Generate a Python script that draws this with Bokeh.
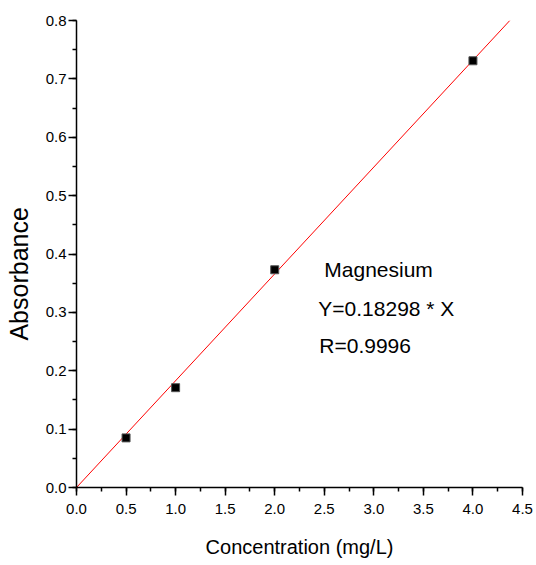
from bokeh.plotting import figure
from bokeh.models import Range1d, SingleIntervalTicker, NumeralTickFormatter, Label, ColumnDataSource
from bokeh.embed import file_html
from bokeh.resources import INLINE

# Data
concentration = [0.5, 1.0, 2.0, 4.0]
absorbance = [0.085, 0.171, 0.373, 0.731]
slope = 0.18298
r_value = 0.9996
fit_x = [0.0, 0.8 / slope]
fit_y = [slope * v for v in fit_x]

FONT = "Liberation Sans"

p = figure(width=536, height=565, output_backend="svg", toolbar_location=None,
           x_range=Range1d(0, 4.5), y_range=Range1d(0, 0.8),
           min_border_left=76, min_border_right=14, min_border_top=20, min_border_bottom=78)
p.outline_line_color = None
p.xgrid.visible = False
p.ygrid.visible = False
p.background_fill_color = "white"
p.border_fill_color = "white"

p.line(fit_x, fit_y, line_color="red", line_width=1)
src = ColumnDataSource(dict(x=concentration, y=absorbance))
p.scatter("x", "y", source=src, marker="square", size=8, fill_color="black",
          line_color="#555555", line_width=1)

for ax, tick, minor in ((p.xaxis[0], 0.5, 2), (p.yaxis[0], 0.1, 2)):
    ax.ticker = SingleIntervalTicker(interval=tick, num_minor_ticks=minor)
    ax.formatter = NumeralTickFormatter(format="0.0")
    ax.axis_line_width = 1.5
    ax.axis_line_color = "black"
    ax.major_tick_line_width = 1.5
    ax.minor_tick_line_width = 1.5
    ax.major_tick_out = 8
    ax.major_tick_in = 0
    ax.minor_tick_out = 4
    ax.minor_tick_in = 0
    ax.major_label_text_font = FONT
    ax.major_label_text_font_size = "15px"
    ax.major_label_text_color = "black"
    ax.axis_label_text_font = FONT
    ax.axis_label_text_font_style = "normal"
    ax.axis_label_text_color = "black"

p.xaxis.axis_label = "Concentration (mg/L)"
p.xaxis.axis_label_text_font_size = "20px"
p.xaxis.major_label_standoff = 8
p.xaxis.axis_label_standoff = 19
# trailing non-breaking spaces shift the rotated title slightly below the frame centre
p.yaxis.axis_label = "Absorbance" + "\u00a0" * 5 + "\u2009"
p.yaxis.axis_label_text_font_size = "25px"
p.yaxis.major_label_standoff = 2
p.yaxis.axis_label_standoff = 10

annots = [("Magnesium", 2.5, 0.373), ("Y=0.18298 * X", 2.44, 0.306), ("R=0.9996", 2.45, 0.243)]
for txt, xx, yy in annots:
    p.add_layout(Label(x=xx, y=yy, text=txt, text_font=FONT, text_font_size="21px",
                       text_color="black", text_baseline="alphabetic"))

open("out.html", "w").write(file_html(p, INLINE))
